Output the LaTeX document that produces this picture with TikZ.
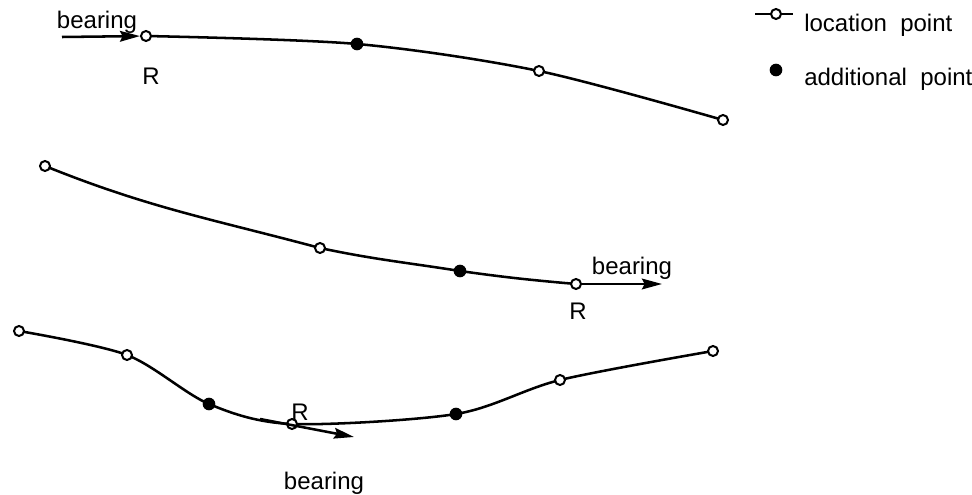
\documentclass[tikz,border=0pt]{standalone}
\usepackage{fontspec}
\setmainfont{Liberation Sans}
\usetikzlibrary{arrows.meta,backgrounds}

\begin{document}
\begin{tikzpicture}[x=0.75pt, y=-0.75pt, font=\fontsize{18}{21}\selectfont,
        loc/.style={circle, draw, fill=white, line width=1.5pt, inner sep=0pt, minimum size=7.5pt},
        addl/.style={circle, fill=black, inner sep=0pt, minimum size=9.5pt},
        lbl/.style={inner sep=0pt},
        curve/.style={line width=1.9pt},
        bear/.style={line width=1.9pt, -{Stealth[length=15pt, width=8pt, inset=2pt]}}]

        \useasboundingbox (0,0) rectangle (972,495);
        \clip (0,0) rectangle (972,495);

        % ==================== first track ====================
        \node[loc]  (a1) at (146,36)  {};
        \node[addl] (a2) at (357,44)  {};
        \node[loc]  (a3) at (539,71)  {};
        \node[loc]  (a4) at (723,120) {};
        \coordinate (s1) at (62,37);
        \begin{scope}[on background layer]
            \draw[curve] plot[smooth] coordinates {(a1) (a2) (a3) (a4)};
        \end{scope}
        \draw[bear] (s1) -- (a1);
        \node[lbl, anchor=base] (b1) at (97,29) {bearing};
        \node[lbl] (r1) at (151,76) {R};

        % ==================== second track ====================
        \node[loc]  (c1) at (45,166)  {};
        \node[loc]  (c2) at (320,248) {};
        \node[addl] (c3) at (460,271) {};
        \node[loc]  (c4) at (576,284) {};
        \coordinate (e2) at (662,284);
        \begin{scope}[on background layer]
            \draw[curve] (c1.center) to[out=-22, in=165] (c2.center)
                to[out=-12, in=171] (c3.center) to[out=-8, in=175] (c4.center);
        \end{scope}
        \draw[bear] (c4) -- (e2);
        \node[lbl, anchor=base] (b2) at (632,275) {bearing};
        \node[lbl] (r2) at (578,311) {R};

        % ==================== third track ====================
        \node[loc]  (d1) at (19,331)  {};
        \node[loc]  (d2) at (127,355) {};
        \node[addl] (d3) at (209,404) {};
        \node[loc]  (d4) at (292,424) {};
        \node[addl] (d5) at (456,414) {};
        \node[loc]  (d6) at (560,380) {};
        \node[loc]  (d7) at (713,351) {};
        \coordinate (s3) at (260,419);
        \coordinate (e3) at (354,437);
        \begin{scope}[on background layer]
            \draw[curve] plot[smooth] coordinates {(d1) (d2) (d3) (d4) (d5) (d6) (d7)};
        \end{scope}
        \draw[bear] (s3) -- (e3);
        \node[lbl] (r3) at (300,412) {R};
        \node[lbl, anchor=base] (b3) at (324,489) {bearing};

        % ==================== legend ====================
        \coordinate (l1) at (755,14);
        \coordinate (l2) at (793,14);
        \node[loc]  (k1) at (776,14) {};
        \node[addl] (k2) at (776,70) {};
        \begin{scope}[on background layer]
            \draw[curve] (l1) -- (l2);
        \end{scope}
        \node[lbl, anchor=base west] (t1) at (804,32) {location~~point};
        \node[lbl, anchor=base west] (t2) at (804,86) {additional~~point};

\end{tikzpicture}
\end{document}
